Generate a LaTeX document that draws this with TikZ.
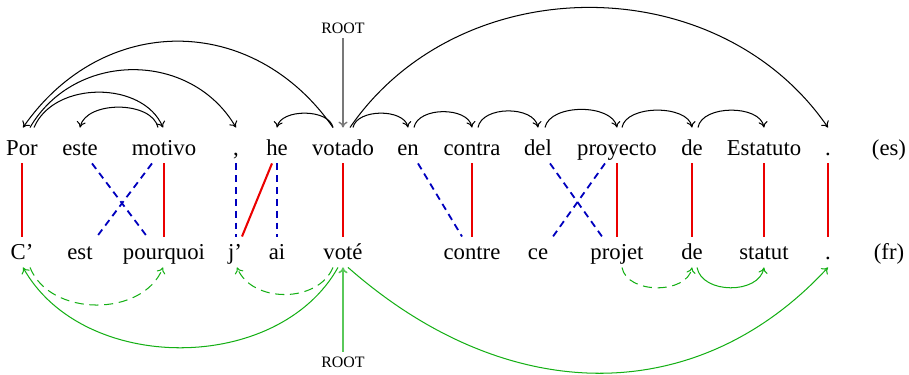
\documentclass[tikz,border=0pt]{standalone}
\usepackage{fontspec}
\setmainfont{Liberation Serif}
\usetikzlibrary{calc,arrows.meta}
\definecolor{alred}{RGB}{235,0,0}
\definecolor{alblue}{RGB}{0,0,190}
\definecolor{depgreen}{RGB}{20,175,20}
\definecolor{rootgreen}{RGB}{90,200,90}
\definecolor{rootgray}{RGB}{120,120,120}
\begin{document}
\begin{tikzpicture}[x=0.44pt,y=-0.44pt,
  eswd/.style={anchor=base,inner xsep=1pt,inner ysep=1.5pt,text height=10.4pt,text depth=2pt},
  frwd/.style={anchor=base,inner xsep=1pt,inner ysep=1.5pt,text height=8.2pt,text depth=2pt},
  rootlbl/.style={font=\scriptsize,inner sep=2pt},
  deparc/.style={-{To[length=2.6pt,width=4pt]},line width=0.45pt,black},
  frarc/.style={-{To[length=2.6pt,width=4pt]},line width=0.45pt,depgreen},
  frdash/.style={frarc,dash pattern=on 4pt off 2.5pt},
  alsure/.style={alred,line width=0.9pt},
  alposs/.style={alblue,line width=0.8pt,dash pattern=on 3pt off 2.2pt},
  rootarrtop/.style={-{To[length=2.6pt,width=4pt]},line width=0.6pt,rootgray},
  rootarrbot/.style={-{To[length=2.6pt,width=4pt]},line width=0.7pt,rootgreen}]
\useasboundingbox (0,0) rectangle (909,374);
% Spanish row
\node[eswd] (sPor) at (22,155) {Por};
\node[eswd] (seste) at (80,155) {este};
\node[eswd] (smotivo) at (164,155) {motivo};
\node[eswd] (scomma) at (236,155) {,};
\node[eswd] (she) at (277,155) {he};
\node[eswd] (svotado) at (343,155) {votado};
\node[eswd] (sen) at (408,155) {en};
\node[eswd] (scontra) at (472,155) {contra};
\node[eswd] (sdel) at (538,155) {del};
\node[eswd] (sproyecto) at (617,155) {proyecto};
\node[eswd] (sde) at (692,155) {de};
\node[eswd] (sEstatuto) at (764,155) {Estatuto};
\node[eswd] (sdot) at (828,155) {.};
\node[eswd] (ses) at (889,155) {(es)};
% French row
\node[frwd] (fC) at (22,259) {C’};
\node[frwd] (fest) at (80,259) {est};
\node[frwd] (fpourquoi) at (164,259) {pourquoi};
\node[frwd] (fj) at (235,259) {j’};
\node[frwd] (fai) at (277,259) {ai};
\node[frwd] (fvote) at (343,259) {voté};
\node[frwd] (fcontre) at (472,259) {contre};
\node[frwd] (fce) at (538,259) {ce};
\node[frwd] (fprojet) at (617,259) {projet};
\node[frwd] (fde) at (692,259) {de};
\node[frwd] (fstatut) at (764,259) {statut};
\node[frwd] (fdot) at (828,259) {.};
\node[frwd] (ffr) at (889,259) {(fr)};
% roots
\node[rootlbl] (rtop) at (343,28) {ROOT};
\node[rootlbl] (rbot) at (343,362) {ROOT};
\draw[rootarrtop] (rtop) -- (svotado.north);
\draw[rootarrbot] (rbot) -- (fvote.south);
% sure alignments
\draw[alsure] (sPor.south) -- (fC.north);
\draw[alsure] (smotivo.south) -- (fpourquoi.north);
\draw[alsure] ($(she.south)+(-5,0)$) -- ($(fj.north)+(7,0)$);
\draw[alsure] (svotado.south) -- (fvote.north);
\draw[alsure] (scontra.south) -- (fcontre.north);
\draw[alsure] (sproyecto.south) -- (fprojet.north);
\draw[alsure] (sde.south) -- (fde.north);
\draw[alsure] (sEstatuto.south) -- (fstatut.north);
\draw[alsure] (sdot.south) -- (fdot.north);
% possible alignments
\draw[alposs] ($(seste.south)+(12,0)$) -- ($(fpourquoi.north)+(-17,0)$);
\draw[alposs] ($(smotivo.south)+(-12,0)$) -- ($(fest.north)+(17,0)$);
\draw[alposs] (scomma.south) -- ($(fj.north)+(1,0)$);
\draw[alposs] (she.south) -- (fai.north);
\draw[alposs] ($(sen.south)+(10,0)$) -- ($(fcontre.north)+(-10,0)$);
\draw[alposs] ($(sdel.south)+(12,0)$) -- ($(fprojet.north)+(-15,0)$);
\draw[alposs] ($(sproyecto.south)+(-12,0)$) -- ($(fce.north)+(15,0)$);
% Spanish dependencies
\draw[deparc] ($(svotado.north)+(-10,0)$) .. controls +(-80,-115) and +(80,-115) .. ($(sPor.north)+(1,0)$);
\draw[deparc] ($(sPor.north)+(8,0)$) .. controls +(45,-77) and +(-45,-77) .. (scomma.north);
\draw[deparc] ($(sPor.north)+(12,0)$) .. controls +(20,-47) and +(-20,-47) .. ($(smotivo.north)+(-1,0)$);
\draw[deparc] ($(smotivo.north)+(-6,0)$) .. controls +(-6,-27) and +(6,-27) .. (seste.north);
\draw[deparc] ($(svotado.north)+(-10,0)$) .. controls +(-4,-19) and +(4,-19) .. (she.north);
\draw[deparc] ($(svotado.north)+(7,0)$) .. controls +(110,-160) and +(-110,-160) .. (sdot.north);
\draw[deparc] ($(svotado.north)+(10,0)$) .. controls +(4,-19) and +(-4,-19) .. (sen.north);
\draw[deparc] ($(sen.north)+(6,0)$) .. controls +(4,-21) and +(-4,-21) .. (scontra.north);
\draw[deparc] ($(scontra.north)+(6,0)$) .. controls +(4,-22) and +(-4,-22) .. (sdel.north);
\draw[deparc] ($(sdel.north)+(7,0)$) .. controls +(5,-24) and +(-5,-24) .. (sproyecto.north);
\draw[deparc] ($(sproyecto.north)+(5,0)$) .. controls +(4,-23) and +(-4,-23) .. (sde.north);
\draw[deparc] ($(sde.north)+(6,0)$) .. controls +(4,-23) and +(-4,-23) .. (sEstatuto.north);
% French dependencies
\draw[frarc] ($(fvote.south)+(-5,0)$) .. controls +(-60,107) and +(60,107) .. ($(fC.south)+(1,0)$);
\draw[frdash] ($(fC.south)+(8,0)$) .. controls +(20,50) and +(-20,50) .. ($(fpourquoi.south)+(-1,0)$);
\draw[frdash] ($(fvote.south)+(-10,0)$) .. controls +(-15,36) and +(15,36) .. ($(fj.south)+(2,0)$);
\draw[frarc] ($(fvote.south)+(5,0)$) .. controls +(160,141) and +(-130,141) .. (fdot.south);
\draw[frdash] ($(fprojet.south)+(5,0)$) .. controls +(5,27) and +(-5,27) .. (fde.south);
\draw[frarc] ($(fde.south)+(5,0)$) .. controls +(5,27) and +(-5,27) .. (fstatut.south);
\end{tikzpicture}
\end{document}
